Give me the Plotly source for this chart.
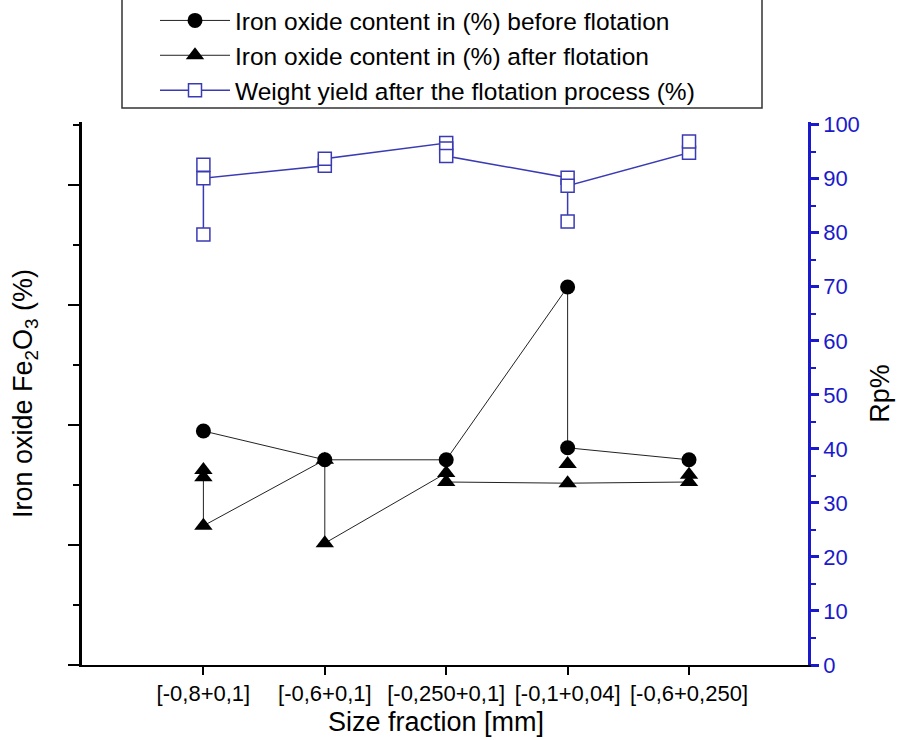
import plotly.graph_objects as go

# Size fractions on the x axis
categories = ["[-0,8+0,1]", "[-0,6+0,1]", "[-0,250+0,1]", "[-0,1+0,04]", "[-0,6+0,250]"]

# Iron oxide content before flotation (path order of the plotted points)
before_idx = [0, 1, 2, 3, 3, 4]
before_val = [39.0, 34.2, 34.2, 63.0, 36.2, 34.2]

# Iron oxide content after flotation (None breaks the connecting line)
after_idx = [0, 0, 0, 1, 1, 2, 2, 3, 4, 4, 3, 3]
after_val = [31.3, 32.5, 23.2, 34.2, 20.3, 32.0, 30.5, 30.3, 30.5, 31.7, None, 33.5]

# Weight yield after flotation, Rp %
yield_idx = [0, 0, 0, 1, 1, 2, 2, 2, 3, 3, 3, 4, 4]
yield_val = [79.7, 92.6, 90.1, 92.4, 93.7, 96.6, 95.6, 94.2, 90.2, 82.1, 88.7, 94.8, 96.9]

FONT = "Arial, Liberation Sans, sans-serif"
BLUE = "#1a1acc"
YBLUE = "#3a3ab4"

fig = go.Figure()

fig.add_trace(go.Scatter(
    x=[categories[i] for i in after_idx], y=after_val,
    mode="lines+markers", name="Iron oxide content in (%) after flotation",
    line=dict(color="#222222", width=1),
    marker=dict(symbol="triangle-up", size=16, color="black"),
    legendgroup="b", legendrank=2,
))
fig.add_trace(go.Scatter(
    x=[categories[i] for i in before_idx], y=before_val,
    mode="lines+markers", name="Iron oxide content in (%) before flotation",
    line=dict(color="#222222", width=1),
    marker=dict(symbol="circle", size=15, color="black"),
    legendgroup="a", legendrank=1,
))
fig.add_trace(go.Scatter(
    x=[categories[i] for i in yield_idx], y=yield_val, yaxis="y2",
    mode="lines+markers", name="Weight yield after the flotation process (%)",
    line=dict(color=YBLUE, width=1.5),
    marker=dict(symbol="square", size=13, color="white",
                line=dict(color=YBLUE, width=1.5)),
    legendgroup="c", legendrank=3,
))

fig.update_layout(
    width=903, height=740,
    margin=dict(l=82, r=95, t=122, b=75, autoexpand=False),
    paper_bgcolor="white", plot_bgcolor="white",
    font=dict(family=FONT, color="black"),
    showlegend=True,
    legend=dict(
        x=(155 - 82) / 726, xanchor="left", y=(665 + 2) / 543, yanchor="top",
        font=dict(size=24.5, family=FONT),
        bgcolor="rgba(0,0,0,0)", borderwidth=0,
        traceorder="grouped", tracegroupgap=0, itemwidth=70,
    ),
    xaxis=dict(
        type="category", categoryorder="array", categoryarray=categories,
        range=[-1.0, 4.98],
        showline=True, linecolor="black", linewidth=2,
        ticks="outside", ticklen=8, tickwidth=2, tickcolor="black",
        tickfont=dict(size=22, family=FONT),
        showgrid=False, zeroline=False,
    ),
    yaxis=dict(
        range=[0, 90.5],
        showline=True, linecolor="black", linewidth=3,
        ticks="outside", ticklen=11, tickwidth=2, tickcolor="black",
        dtick=20, showticklabels=False,
        minor=dict(ticks="outside", ticklen=6, tickwidth=2, tickcolor="black", dtick=10),
        showgrid=False, zeroline=False,
        title=dict(text="Iron oxide Fe<sub>2</sub>O<sub>3</sub> (%)",
                   font=dict(size=27, family=FONT), standoff=28),
    ),
    yaxis2=dict(
        overlaying="y", side="right", range=[0, 100.5],
        showline=True, linecolor=BLUE, linewidth=2.5,
        ticks="outside", ticklen=8, tickwidth=2.5, tickcolor=BLUE,
        dtick=10, tickfont=dict(size=22, color=BLUE, family=FONT),
        minor=dict(ticks="outside", ticklen=5, tickwidth=2, tickcolor=BLUE, dtick=5),
        showgrid=False, zeroline=False,
        title=dict(text="Rp%", font=dict(size=27, family=FONT, color="black"), standoff=12),
    ),
    annotations=[dict(
        text="Size fraction [mm]", xref="paper", yref="paper",
        x=(436 - 82) / 726, y=(665 - 722) / 543, xanchor="center", yanchor="middle",
        showarrow=False, font=dict(size=27, family=FONT, color="black"),
    )],
    shapes=[dict(
        type="rect", xref="paper", yref="paper",
        x0=(122 - 82) / 726, x1=(762 - 82) / 726,
        y0=(665 - 108) / 543, y1=(665 + 10) / 543,
        line=dict(color="#333333", width=1.5), fillcolor="rgba(0,0,0,0)",
    )],
)

fig.write_html("out.html")
